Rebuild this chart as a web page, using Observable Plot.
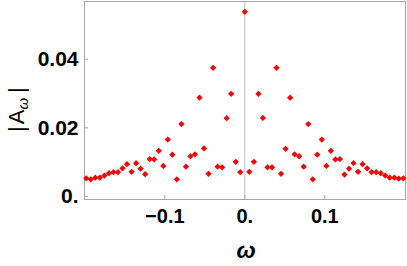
<!DOCTYPE html>
<html>
<head>
<meta charset="utf-8">
<script src="https://cdn.jsdelivr.net/npm/d3@7"></script>
<script src="https://cdn.jsdelivr.net/npm/@observablehq/plot@0.6"></script>
<style>
  html, body { margin: 0; padding: 0; background: #fff; }
  #chart svg { display: block; }
</style>
</head>
<body>
<div id="chart"></div>
<script>
const omega = [
  -0.19821, -0.19254, -0.18688, -0.18122, -0.17555, -0.16989, -0.16423, -0.15856,
  -0.15290, -0.14724, -0.14158, -0.13591, -0.13025, -0.12459, -0.11892, -0.11326,
  -0.10760, -0.10193, -0.09627, -0.09061, -0.08495, -0.07928, -0.07362, -0.06796,
  -0.06229, -0.05663, -0.05097, -0.04530, -0.03964, -0.03398, -0.02832, -0.02265,
  -0.01699, -0.01133, -0.00566, 0,
  0.00566, 0.01133, 0.01699, 0.02265, 0.02832, 0.03398, 0.03964, 0.04530,
  0.05097, 0.05663, 0.06229, 0.06796, 0.07362, 0.07928, 0.08495, 0.09061,
  0.09627, 0.10193, 0.10760, 0.11326, 0.11892, 0.12459, 0.13025, 0.13591,
  0.14158, 0.14724, 0.15290, 0.15856, 0.16423, 0.16989, 0.17555, 0.18122,
  0.18688, 0.19254, 0.19821
];
const amplitude = [
  0.0053, 0.0050, 0.0055, 0.0055, 0.0061, 0.0068, 0.0071, 0.0071,
  0.0082, 0.0094, 0.0072, 0.0097, 0.0081, 0.0065, 0.0109, 0.0108,
  0.0133, 0.0089, 0.0166, 0.0122, 0.0050, 0.0211, 0.0087, 0.0117,
  0.0123, 0.0288, 0.0140, 0.0066, 0.0375, 0.0087, 0.0085, 0.0228,
  0.0299, 0.0101, 0.0071, 0.0538,
  0.0072, 0.0101, 0.0299, 0.0229, 0.0085, 0.0085, 0.0375, 0.0066,
  0.0139, 0.0288, 0.0123, 0.0117, 0.0087, 0.0211, 0.0050, 0.0122,
  0.0166, 0.0089, 0.0133, 0.0108, 0.0109, 0.0064, 0.0081, 0.0097,
  0.0072, 0.0094, 0.0082, 0.0071, 0.0071, 0.0068, 0.0061, 0.0055,
  0.0055, 0.0052, 0.0053
];
const xTicks = [-0.1, 0, 0.1];
const xTickLabels = ["\u22120.1", "0.", "0.1"];
const yTicks = [0, 0.02, 0.04];
const yTickLabels = ["0.", "0.02", "0.04"];
const xLabel = "\u03c9";
const yLabelMain = "A";
const yLabelSub = "\u03c9";

const data = omega.map((w, i) => ({w, a: amplitude[i]}));

const diamond = {
  draw(ctx, size) {
    const h = Math.sqrt(size / 2);
    ctx.moveTo(0, -h);
    ctx.lineTo(h, 0);
    ctx.lineTo(0, h);
    ctx.lineTo(-h, 0);
    ctx.closePath();
  }
};

const W = 407, H = 266;
const mL = 84, mR = 2, mT = 1, mB = 67;
const frameH = H - mT - mB;

const chart = Plot.plot({
  width: W,
  height: H,
  marginLeft: mL,
  marginRight: mR,
  marginTop: mT,
  marginBottom: mB,
  style: {fontFamily: "'Liberation Sans', Arial, sans-serif", background: "#fff", overflow: "visible"},
  x: {domain: [-0.2004, 0.2009]},
  y: {domain: [-0.00087, 0.0568]},
  marks: [
    Plot.ruleX([0], {stroke: "#bbbbbb", strokeWidth: 1}),
    Plot.frame({stroke: "#a6a6a6", strokeWidth: 1}),
    Plot.tickX(xTicks, {x: d => d, stroke: "#a6a6a6", insetTop: frameH - 4}),
    Plot.tickY(yTicks, {y: d => d, stroke: "#a6a6a6", insetRight: (W - mL - mR) - 4}),
    Plot.axisX(xTicks, {
      tickSize: 0, tickPadding: 9, label: null,
      tickFormat: (d, i) => xTickLabels[i],
      fontSize: 20, fontWeight: "bold", fill: "#000"
    }),
    Plot.axisY(yTicks, {
      tickSize: 0, tickPadding: 6, label: null,
      tickFormat: (d, i) => yTickLabels[i],
      fontSize: 21, fontWeight: "bold", fill: "#000"
    }),
    Plot.dot(data, {x: "w", y: "a", symbol: diamond, r: 2.5, fill: "#ff0000", stroke: "none"})
  ]
});

document.getElementById("chart").appendChild(chart);

const svg = d3.select(chart);
svg.append("text")
  .attr("x", 246)
  .attr("y", 258)
  .attr("text-anchor", "middle")
  .attr("font-family", "'Liberation Sans', Arial, sans-serif")
  .attr("font-size", 23)
  .attr("font-style", "italic")
  .attr("font-weight", "bold")
  .attr("fill", "#000")
  .text(xLabel);

const yl = svg.append("text")
  .attr("transform", "translate(24,132) rotate(-90)")
  .attr("text-anchor", "start")
  .attr("font-family", "'Liberation Sans', Arial, sans-serif")
  .attr("font-size", 22)
  .attr("fill", "#000");
yl.append("tspan").text("|");
yl.append("tspan").attr("dx", 2).text(yLabelMain);
yl.append("tspan").attr("dy", 4).attr("font-size", 15).attr("font-style", "italic").text(yLabelSub);
yl.append("tspan").attr("dy", -4).attr("dx", 5).text("|");
</script>
</body>
</html>
